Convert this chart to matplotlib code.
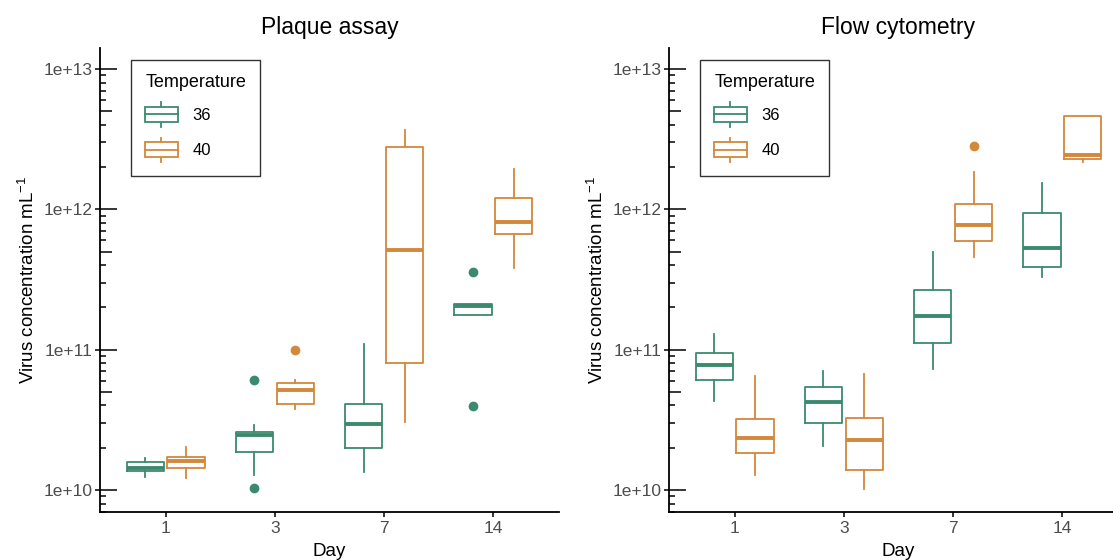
import numpy as np
import matplotlib.pyplot as plt
import matplotlib.ticker as mticker
from matplotlib.legend_handler import HandlerBase
from matplotlib.patches import Rectangle, Patch
from matplotlib.lines import Line2D

plt.rcParams['font.family'] = ['Liberation Sans', 'DejaVu Sans']
plt.rcParams['mathtext.fontset'] = 'custom'
plt.rcParams['mathtext.rm'] = 'Liberation Sans'
plt.rcParams['mathtext.it'] = 'Liberation Sans:italic'
plt.rcParams['mathtext.bf'] = 'Liberation Sans:bold'

# --- dados ---
days = ['1', '3', '7', '14']
temps = ['36', '40']
panel_titles = ['Plaque assay', 'Flow cytometry']

# cada linha: bigode inferior, Q1, mediana, Q3, bigode superior (uma linha por dia)
plaque_36 = [[1.23e10, 1.37e10, 1.44e10, 1.59e10, 1.69e10],
             [1.27e10, 1.86e10, 2.47e10, 2.58e10, 2.88e10],
             [1.35e10, 2.00e10, 2.96e10, 4.07e10, 1.10e11],
             [1.78e11, 1.78e11, 2.04e11, 2.11e11, 2.11e11]]
plaque_40 = [[1.21e10, 1.44e10, 1.62e10, 1.71e10, 2.02e10],
             [3.79e10, 4.11e10, 5.18e10, 5.78e10, 6.04e10],
             [3.05e10, 8.07e10, 5.10e11, 2.80e12, 3.68e12],
             [3.79e11, 6.63e11, 8.17e11, 1.20e12, 1.93e12]]
flow_36 = [[4.34e10, 6.04e10, 7.81e10, 9.40e10, 1.29e11],
           [2.05e10, 2.99e10, 4.27e10, 5.41e10, 7.04e10],
           [7.32e10, 1.12e11, 1.74e11, 2.65e11, 4.99e11],
           [3.31e11, 3.90e11, 5.27e11, 9.47e11, 1.55e12]]
flow_40 = [[1.28e10, 1.83e10, 2.35e10, 3.21e10, 6.45e10],
           [1.02e10, 1.39e10, 2.28e10, 3.27e10, 6.74e10],
           [4.54e11, 5.94e11, 7.73e11, 1.09e12, 1.86e12],
           [2.17e12, 2.29e12, 2.42e12, 4.64e12, 4.64e12]]

# outliers por dia
plaque_36_out = [[], [6.1e10, 1.03e10], [], [3.55e11, 3.96e10]]
plaque_40_out = [[], [9.9e10], [], []]
flow_36_out = [[], [], [], []]
flow_40_out = [[], [], [2.83e12], []]

colors = {'36': '#3C8A6E', '40': '#D3883B'}

panels = [
    {'36': (plaque_36, plaque_36_out), '40': (plaque_40, plaque_40_out)},
    {'36': (flow_36, flow_36_out), '40': (flow_40, flow_40_out)},
]


class BoxKey(HandlerBase):
    """Desenha a chave da legenda no formato de um boxplot pequeno."""
    def create_artists(self, legend, orig_handle, xdescent, ydescent,
                       width, height, fontsize, trans):
        c = orig_handle.get_edgecolor()
        x0, y0 = -xdescent, -ydescent
        bh = height * 0.62
        by = y0 + (height - bh) / 2
        xm = x0 + width / 2
        box = Rectangle((x0, by), width, bh, facecolor='white', edgecolor=c,
                        lw=1.3, transform=trans)
        w1 = Line2D([xm, xm], [y0, by], color=c, lw=1.3, transform=trans)
        w2 = Line2D([xm, xm], [by + bh, y0 + height], color=c, lw=1.3, transform=trans)
        med = Line2D([x0, x0 + width], [by + bh / 2] * 2, color=c, lw=1.3, transform=trans)
        return [w1, w2, box, med]


fig = plt.figure(figsize=(11.13, 5.6), dpi=100)
W, H = 1113, 560
lefts = [100, 669]
ax_w = 459
ax_top, ax_bot = 48, 511.7

x = np.arange(1, len(days) + 1)
offsets = {'36': -0.1875, '40': 0.1875}
box_w = 0.34

for i, data in enumerate(panels):
    ax = fig.add_axes([lefts[i] / W, (H - ax_bot) / H, ax_w / W, (ax_bot - ax_top) / H])
    ax.set_yscale('log')
    ax.set_ylim(10 ** 9.845, 10 ** 13.15)
    ax.set_xlim(0.4, 4.6)

    for t in temps:
        rows, outs = data[t]
        stats = []
        for r, o in zip(rows, outs):
            stats.append({'whislo': r[0], 'q1': r[1], 'med': r[2], 'q3': r[3],
                          'whishi': r[4], 'fliers': o})
        c = colors[t]
        ax.bxp(stats, positions=x + offsets[t], widths=box_w, showcaps=False,
               boxprops=dict(color=c, lw=1.3),
               whiskerprops=dict(color=c, lw=1.3),
               medianprops=dict(color=c, lw=2.8, solid_capstyle='butt'),
               flierprops=dict(marker='o', markerfacecolor=c, markeredgecolor=c,
                               markersize=6, linestyle='none'),
               manage_ticks=False)

    # eixos no estilo "classic"
    for s in ['top', 'right']:
        ax.spines[s].set_visible(False)
    for s in ['left', 'bottom']:
        ax.spines[s].set_linewidth(1.3)

    ax.set_xticks(x)
    ax.set_xticklabels(days)
    ax.tick_params(axis='x', direction='out', length=3.6, width=1.1,
                   labelcolor='#4D4D4D', labelsize=12.5, pad=3)

    ax.yaxis.set_major_locator(mticker.LogLocator(base=10, numticks=10))
    ax.yaxis.set_major_formatter(mticker.FuncFormatter(
        lambda v, p: '1e+%d' % int(round(np.log10(v)))))
    ax.yaxis.set_minor_locator(mticker.LogLocator(base=10, subs=[2, 3, 4, 6, 7, 8, 9], numticks=10))
    ax.yaxis.set_minor_formatter(mticker.NullFormatter())
    ax.tick_params(axis='y', which='major', direction='out', length=3.6, width=1.1,
                   labelcolor='#4D4D4D', labelsize=12.5, pad=2)
    ax.tick_params(axis='y', which='minor', direction='in', length=4.5, width=1.1)

    # marcas internas (estilo annotation_logticks): longas nas décadas, médias em 5x
    ytr = ax.get_yaxis_transform()
    for v in [1e10, 1e11, 1e12, 1e13]:
        ax.plot([0, 17 / ax_w], [v, v], color='black', lw=1.1, transform=ytr,
                clip_on=False, solid_capstyle='butt')
    for v in [5e10, 5e11, 5e12]:
        ax.plot([0, 12 / ax_w], [v, v], color='black', lw=1.1, transform=ytr,
                clip_on=False, solid_capstyle='butt')

    ax.set_title(panel_titles[i], fontsize=16.5, pad=10)
    ax.set_xlabel('Day', fontsize=13.5, labelpad=5)
    ax.set_ylabel('Virus concentration mL$^{-1}$', fontsize=13.5, labelpad=4)

    handles = [Patch(facecolor='white', edgecolor=colors[t]) for t in temps]
    leg = ax.legend(handles, temps, title='Temperature', loc='upper left',
                    bbox_to_anchor=(31 / ax_w, 1 - 12 / (ax_bot - ax_top)),
                    borderaxespad=0, fancybox=False, frameon=True,
                    handler_map={Patch: BoxKey()}, fontsize=12,
                    title_fontsize=13, alignment='left',
                    handlelength=1.95, handleheight=1.9, handletextpad=0.9,
                    labelspacing=0.65, borderpad=0.85)
    leg.get_frame().set_edgecolor('black')
    leg.get_frame().set_linewidth(1.0)

plt.savefig('out.png', dpi=100)
